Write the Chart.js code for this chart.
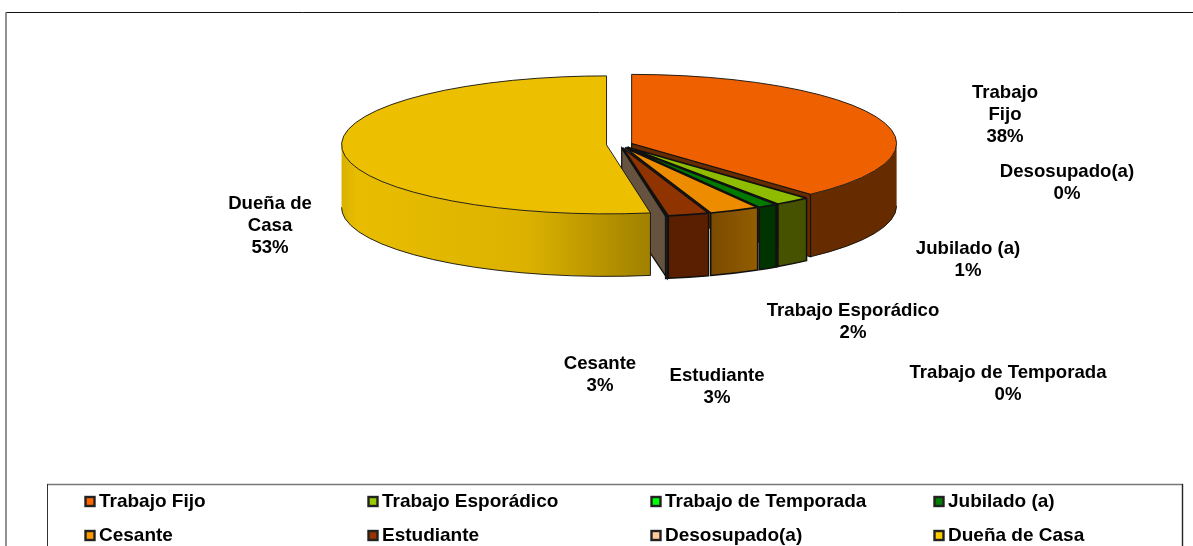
<!DOCTYPE html>
<html><head><meta charset="utf-8">
<style>html,body{margin:0;padding:0;background:#fff;overflow:hidden}#w{width:1193px;height:546px;position:relative}</style>
<script src="https://cdn.jsdelivr.net/npm/chart.js@4"></script>
</head><body><div id="w"><canvas id="c" width="1193" height="546"></canvas></div>
<script>
const categories = ['Trabajo Fijo','Trabajo Esporádico','Trabajo de Temporada','Jubilado (a)','Cesante','Estudiante','Desosupado(a)','Dueña de Casa'];
const shares = [38.2,2.2,0.05,1.2,3.1,2.5,0.1,52.65];
const topColors = ['#ee6000','#8fbc00','#00e000','#007a00','#ee8c00','#8f3300','#f0c090','#ecc000'];
const legendColors = ['#ff6600','#99cc00','#00ff00','#008000','#ff9900','#993300','#ffcc99','#ffcc00'];
const sideColors = ['#662c00','#465200','#006000','#003300','#8a5600','#5a1e00','#66533f','#ecc000'];
const labelLines = [['Trabajo','Fijo'],['Trabajo Esporádico'],['Trabajo de Temporada'],['Jubilado (a)'],['Cesante'],['Estudiante'],['Desosupado(a)'],['Dueña de','Casa']];
const labelAnchors = [[1005,93],[853,311],[1008,373],[968,249],[600,364],[717,376],[1067,172],[270,204]];

const FONT='"Liberation Sans",Arial,sans-serif';
const G={cx:619.5,cy:144.6,rx:265,ry:69,depth:62.5,explode:13};
function geom(el){
  const a=el.startAngle,b=el.endAngle,m=(a+b)/2;
  return {a,b,x:G.cx+Math.cos(m)*G.explode,y:G.cy+Math.sin(m)*G.explode*G.ry/G.rx};
}
function rimPath(ctx,g,a,b){
  ctx.beginPath();
  ctx.ellipse(g.x,g.y,G.rx,G.ry,0,a,b);
  ctx.ellipse(g.x,g.y+G.depth,G.rx,G.ry,0,b,a,true);
  ctx.closePath();
}
function drawWall(ctx,g,ang,color){
  const px=g.x+Math.cos(ang)*G.rx,py=g.y+Math.sin(ang)*G.ry;
  ctx.beginPath();ctx.moveTo(g.x,g.y);ctx.lineTo(px,py);ctx.lineTo(px,py+G.depth);ctx.lineTo(g.x,g.y+G.depth);ctx.closePath();
  ctx.fillStyle=color;ctx.fill();ctx.strokeStyle='#111';ctx.lineWidth=1.2;ctx.stroke();
}
function line(c,col,w,x1,y1,x2,y2){c.strokeStyle=col;c.lineWidth=w;c.beginPath();c.moveTo(x1,y1);c.lineTo(x2,y2);c.stroke();}
const pie3d={
  id:'pie3d',
  beforeDraw(chart){
    const c=chart.ctx,W=chart.width,H=chart.height;c.save();c.fillStyle='#fff';c.fillRect(0,0,W,H);
    line(c,'#111',1,6,12.5,W,12.5);
    line(c,'#777',1.6,6,12,6,H);
    line(c,'#777',1.6,47,484.5,1183,484.5);
    line(c,'#333',1,47.5,484,47.5,H);
    line(c,'#222',1.4,1182.5,484,1182.5,H);
    c.restore();
  },
  beforeDatasetDraw(chart){
    const ctx=chart.ctx,arcs=chart.getDatasetMeta(0).data;
    ctx.save();
    const gs=arcs.map(geom);
    drawWall(ctx,gs[0],gs[0].b,sideColors[0]);
    drawWall(ctx,gs[6],gs[6].a,sideColors[6]);
    for(let i=0;i<arcs.length;i++){
      const g=gs[i];
      const a=Math.max(g.a,0),b=Math.min(g.b,Math.PI);
      if(b<=a)continue;
      rimPath(ctx,g,a,b);
      const lx=g.x+Math.cos(b)*G.rx,rx=g.x+Math.cos(a)*G.rx;
      if(i===7){
        const gr=ctx.createLinearGradient(lx,0,rx,0);
        gr.addColorStop(0,'#d9b000');gr.addColorStop(0.05,'#e8bd00');gr.addColorStop(0.6,'#dcb200');gr.addColorStop(1,'#a08000');
        ctx.fillStyle=gr;
      }else if(i===4){
        const gr=ctx.createLinearGradient(lx,0,rx,0);
        gr.addColorStop(0,'#7a4a00');gr.addColorStop(1,'#935e00');
        ctx.fillStyle=gr;
      }else ctx.fillStyle=sideColors[i];
      ctx.fill();
      ctx.strokeStyle='#111';ctx.lineWidth=(i===0||i===7)?0.9:1.5;
      ctx.beginPath();
      if(i===7||i===0){
        ctx.ellipse(g.x,g.y+G.depth,G.rx,G.ry,0,a,b);
        if(i===7){ctx.moveTo(rx,g.y+Math.sin(a)*G.ry);ctx.lineTo(rx,g.y+Math.sin(a)*G.ry+G.depth);}
        else{ctx.moveTo(lx,g.y+Math.sin(b)*G.ry);ctx.lineTo(lx,g.y+Math.sin(b)*G.ry+G.depth);}
      }else{
        ctx.moveTo(rx,g.y+Math.sin(a)*G.ry);ctx.lineTo(rx,g.y+Math.sin(a)*G.ry+G.depth);
        ctx.ellipse(g.x,g.y+G.depth,G.rx,G.ry,0,a,b);
        ctx.lineTo(lx,g.y+Math.sin(b)*G.ry);
      }
      ctx.stroke();
    }
    arcs.forEach((el,i)=>{
      const g=gs[i];
      ctx.save();
      ctx.translate(g.x,g.y);
      ctx.scale(G.rx/el.outerRadius,G.ry/el.outerRadius);
      ctx.translate(-el.x,-el.y);
      el.draw(ctx);
      ctx.restore();
      ctx.beginPath();ctx.moveTo(g.x,g.y);
      ctx.ellipse(g.x,g.y,G.rx,G.ry,0,g.a,g.b);ctx.closePath();
      ctx.strokeStyle='#111';ctx.lineWidth=(i===0||i===7)?0.9:1.6;ctx.lineJoin='bevel';ctx.stroke();
    });
    ctx.restore();
    return false;
  },
  afterDraw(chart){
    const ctx=chart.ctx;ctx.save();
    ctx.fillStyle='#000';ctx.textAlign='center';ctx.textBaseline='middle';
    ctx.font='bold 18.6px '+FONT;
    categories.forEach((n,i)=>{
      const ls=labelLines[i].concat([Math.round(shares[i])+'%']);
      const [x,y]=labelAnchors[i];
      ls.forEach((t,j)=>ctx.fillText(t,x,y+j*22));
    });
    ctx.textAlign='left';
    ctx.font='bold 19px '+FONT;
    categories.forEach((n,i)=>{
      const pos=i%4,row=i<4?0:1;
      const x=85.5+pos*283,y=row?536:502;
      ctx.fillStyle=legendColors[i];ctx.strokeStyle='#222';ctx.lineWidth=2.4;
      ctx.fillRect(x,y-5,9,9);ctx.strokeRect(x,y-5,9,9);
      ctx.fillStyle='#000';ctx.fillText(n,x+13.5,y);
    });
    ctx.restore();
  }
};
new Chart(document.getElementById('c'),{
  type:'pie',
  data:{labels:categories,datasets:[{data:shares,backgroundColor:topColors,borderWidth:0,hoverOffset:0}]},
  options:{responsive:false,animation:false,layout:{padding:0},plugins:{legend:{display:false},tooltip:{enabled:false}},events:[]},
  plugins:[pie3d]
});
</script></body></html>
